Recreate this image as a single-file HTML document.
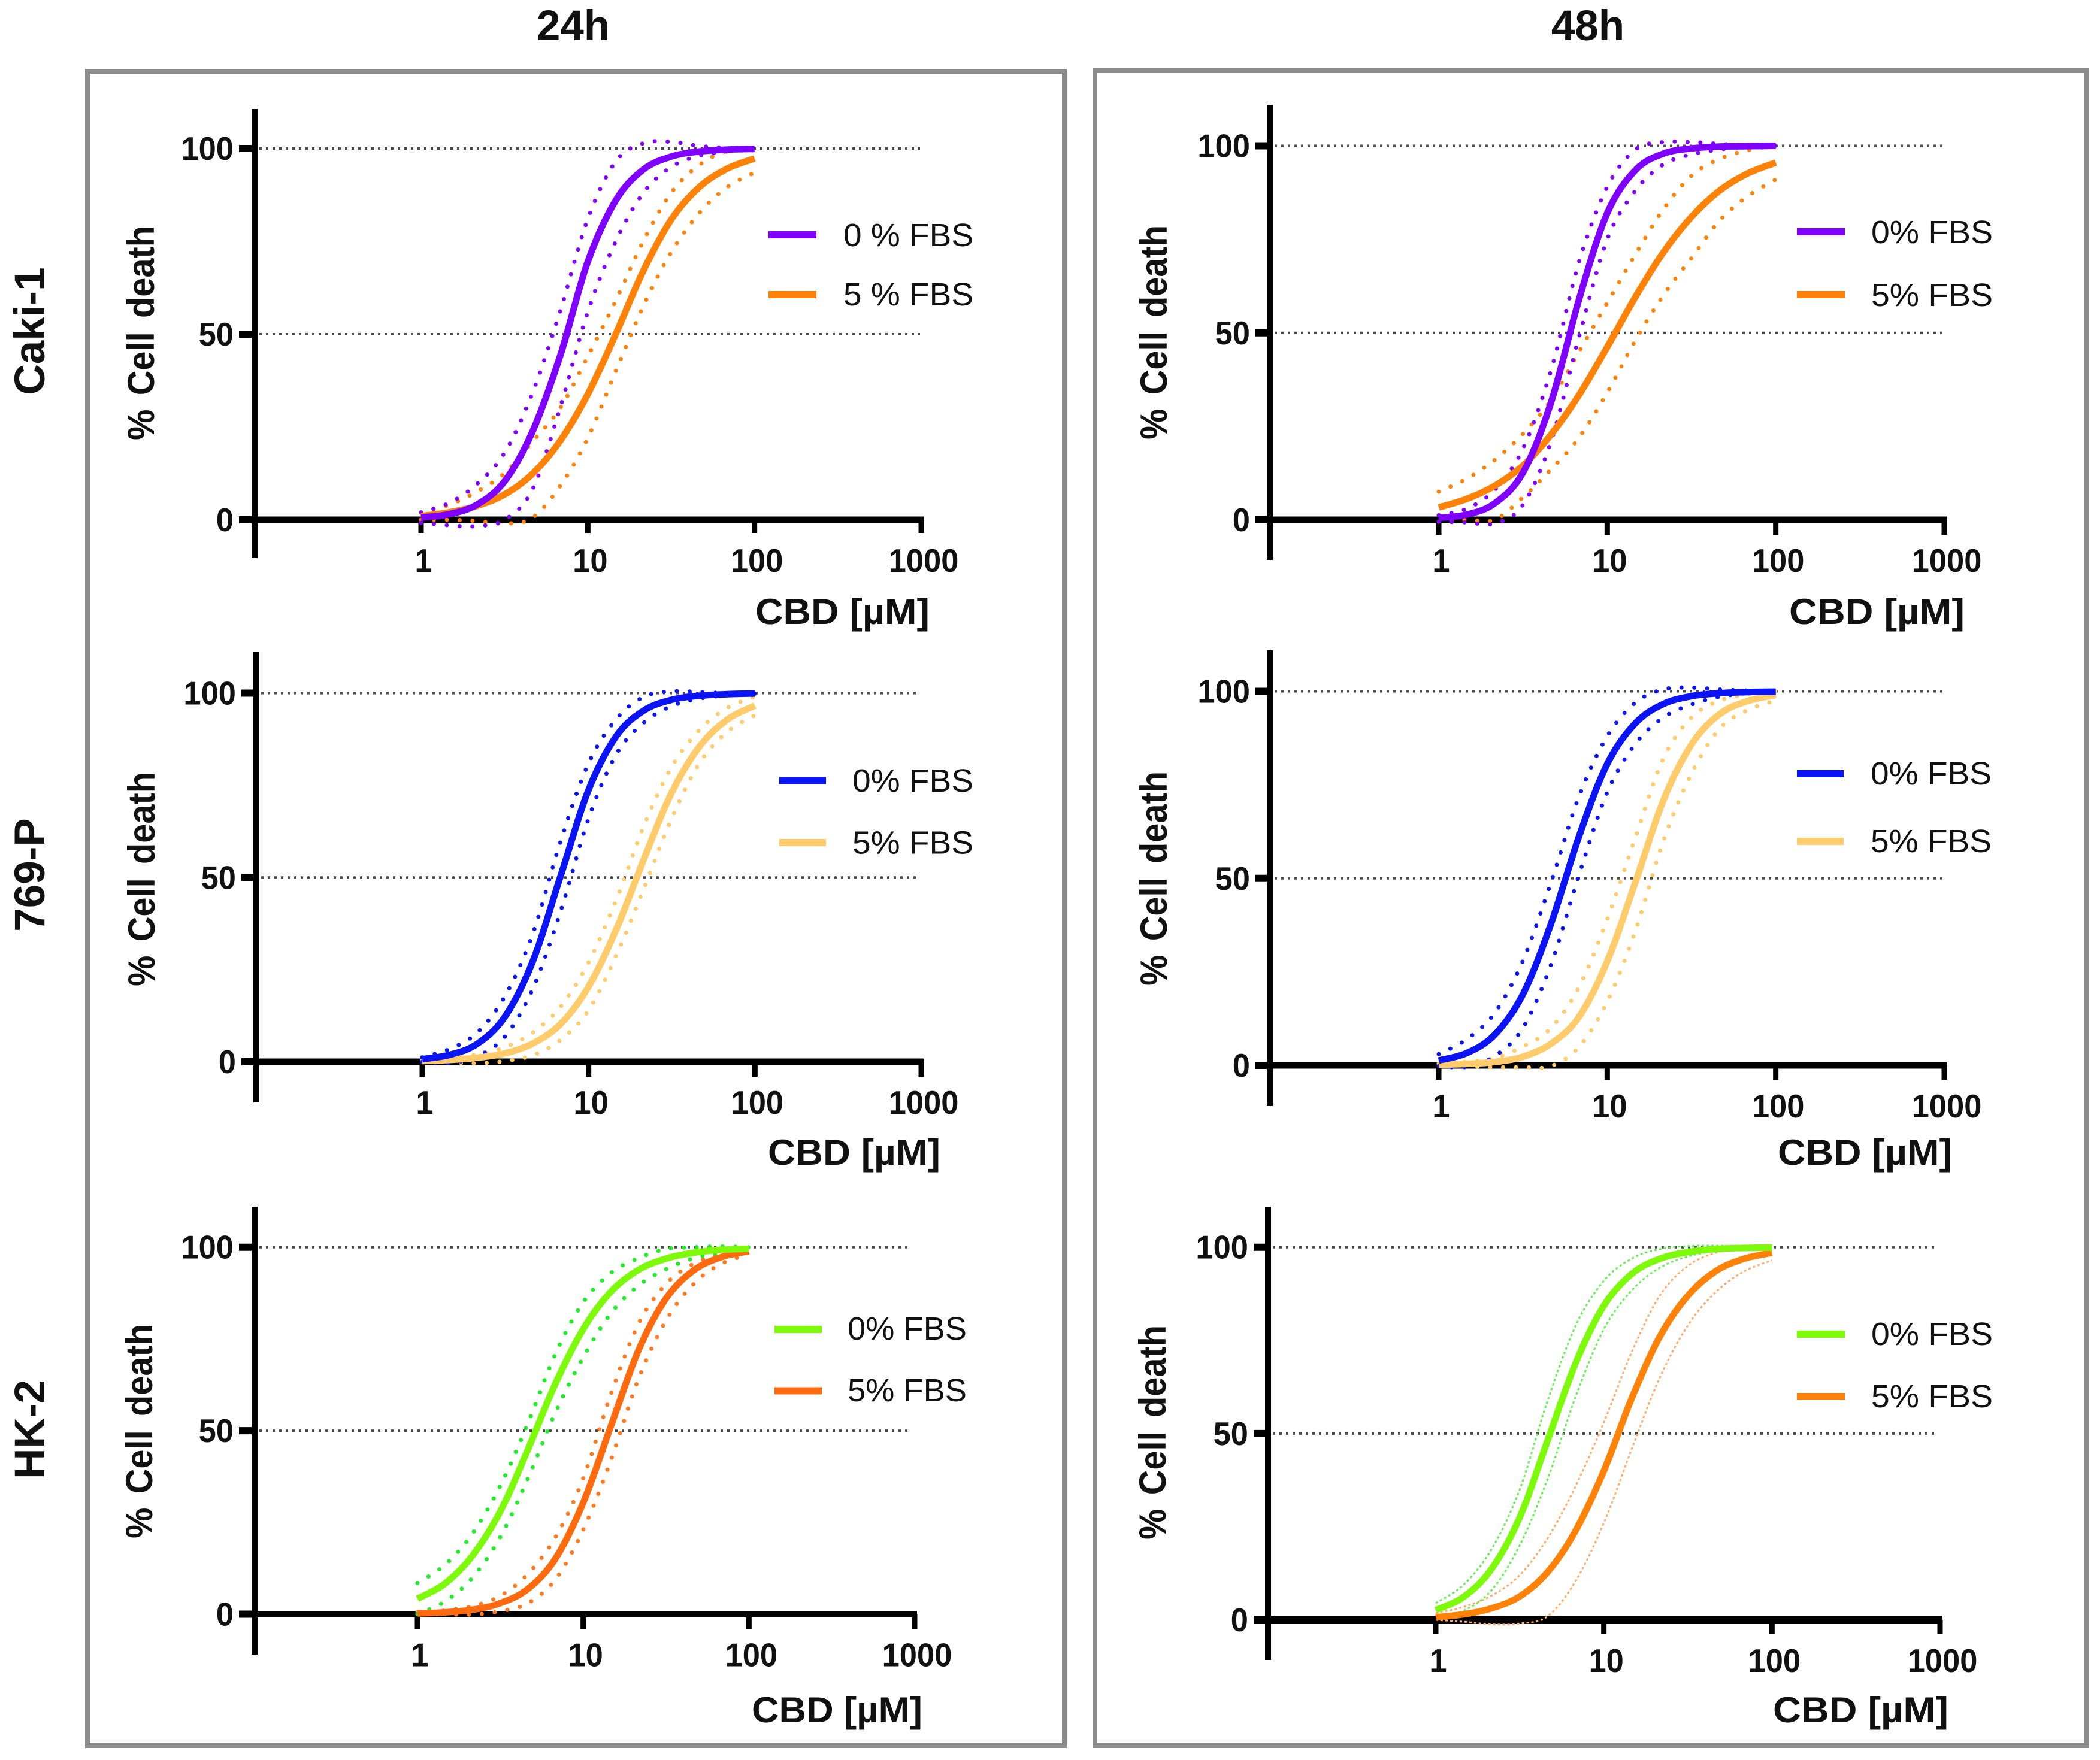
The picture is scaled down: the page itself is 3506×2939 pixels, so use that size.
<!DOCTYPE html>
<html lang="en">
<head>
<meta charset="utf-8">
<title>CBD dose-response curves</title>
<style>
html,body{margin:0;padding:0;background:#fff;}
svg{display:block;}
text{font-family:"Liberation Sans",sans-serif;fill:#111;}
.b{font-weight:bold;}
</style>
</head>
<body>
<svg id="fig" xmlns="http://www.w3.org/2000/svg" width="3506" height="2939" viewBox="0 0 3506 2939">
  <rect x="0" y="0" width="3506" height="2939" fill="#fff"/>
  <rect x="146" y="119" width="1631" height="2796" fill="none" stroke="#8c8c8c" stroke-width="8"/>
  <rect x="1828" y="118" width="1656" height="2797" fill="none" stroke="#8c8c8c" stroke-width="8"/>
  <text class="b" x="957" y="67" font-size="71" text-anchor="middle">24h</text>
  <text class="b" x="2651" y="67" font-size="71" text-anchor="middle">48h</text>
  <text class="b" font-size="71" text-anchor="middle" transform="translate(74,553) rotate(-90)">Caki-1</text>
  <text class="b" font-size="71" text-anchor="middle" transform="translate(74,1461) rotate(-90)">769-P</text>
  <text class="b" font-size="71" text-anchor="middle" transform="translate(74,2387) rotate(-90)">HK-2</text>
</svg>
<script>
// Shared axis data
const doses = [1,1.47,2.15,3.16,4.64,6.81,10,14.7,21.5,31.6,46.4,68.1,100];
const xTickLabels = [1,10,100,1000];
const yTickLabels = [0,50,100];
const gridValues = [50,100];

// Caki-1 24h
const caki24Fbs0Mid = [0.6,1.5,4,10.3,23.6,44,69.5,86,94.3,97.8,99.2,99.7,99.9];
const caki24Fbs0Up  = [2,4.5,9.5,18,34,56,81,96.5,101.4,101.8,100.7,100.2,100];
const caki24Fbs0Low = [-0.8,-1.5,-1.7,0,8,30,56,75,88,95,98,99.2,99.8];
const caki24Fbs5Mid = [1,2,3.7,6.8,12.3,21.2,33.8,50,67,80.8,89.5,94.5,97.3];
const caki24Fbs5Up  = [2,4,7.5,12.5,21,30,44,59,75,88,95.5,99.3,100.3];
const caki24Fbs5Low = [0,0,-0.3,-1,0.5,9,22,40,57.5,72,82.5,89.5,93.5];
// Caki-1 48h
const caki48Fbs0Mid = [0.5,1.4,4.4,12.6,31.4,59,82,93.5,97.9,99.3,99.8,99.9,100];
const caki48Fbs0Up  = [1.2,3,8,19,40,69,89,99,101,101,100.5,100.1,100];
const caki48Fbs0Low = [-0.5,-0.7,-1,4,21,49,75,88,95,97.7,99,99.8,100];
const caki48Fbs5Mid = [3.3,5.6,9.1,14.5,22.8,33.4,46.2,59.6,71.5,81,88,92.6,95.5];
const caki48Fbs5Up  = [7.5,11,16,23,32,45,58,71,83,92,96.5,98.8,100];
const caki48Fbs5Low = [-0.5,0,0,6,13.5,22,34,48,60,70,80,86.5,91];
// 769-P 24h
const p769h24Fbs0Mid = [0.7,1.9,4.9,12.4,27.5,50.6,73.8,88.4,95.3,98.2,99.3,99.7,99.9];
const p769h24Fbs0Up  = [1.2,3.5,8,18,35,60,81,93,99,100.5,100.3,100,100];
const p769h24Fbs0Low = [0,-0.3,1.5,7,20,41,66,83.5,92,96.5,98.5,99.4,99.8];
const p769h24Fbs5Mid = [0.2,0.5,1.1,2.3,5,10.3,20.4,36,55,73,85.5,92.8,96.6];
const p769h24Fbs5Up  = [0.5,1,2,4,8,15,27,44,64,80,90,96,99];
const p769h24Fbs5Low = [0,-0.2,-0.4,0.2,1.8,6,14,29,47,66,81,89.5,94];
// 769-P 48h
const p769h48Fbs0Mid = [1.3,3.3,8.2,19,37.9,61.3,80.6,91.5,96.6,98.7,99.5,99.8,99.9];
const p769h48Fbs0Up  = [3,7,14,28,49,72,88,97,100.5,101,100.5,100.2,100];
const p769h48Fbs0Low = [-0.2,-0.4,2.5,10,27,51,73,86,93,96.5,98.5,99.5,99.8];
const p769h48Fbs5Mid = [0.2,0.4,0.9,2.3,5.8,13,27.8,49,70.8,85.8,93.9,97.4,99];
const p769h48Fbs5Up  = [0.5,1,2,5,10,21,39,61,82,93,97.5,99.2,100];
const p769h48Fbs5Low = [-0.1,-0.3,-0.5,-0.5,-0.2,5,17,36,60,78,90,95,97.5];
// HK-2 24h
const hk24Fbs0Mid = [4.2,8.4,16,28,44.9,62.9,77.7,87.9,93.8,96.9,98.5,99.3,99.6];
const hk24Fbs0Up  = [8.5,13.5,22,35,52,71,85,93,97,99.5,100,100.2,100];
const hk24Fbs0Low = [0,3.5,10,21,37,55,70,82,89.5,94,97,98.5,99];
const hk24Fbs5Mid = [0.2,0.5,1.2,3,6.9,15.2,30.4,51.3,71.8,86,93.7,97.3,98.9];
const hk24Fbs5Up  = [0.5,1,2.2,5,11,21,37,60,79,90,95.5,98.3,99.5];
const hk24Fbs5Low = [0,0,-0.1,0.8,3,9.5,23,42,64,80,90,95.5,98];
// HK-2 48h
const hk48Fbs0Mid = [2.6,6.2,13.7,27.5,48.3,69,84.3,92.9,96.9,98.7,99.5,99.8,99.9];
const hk48Fbs0Up  = [4.5,9.5,19,35,59,79,91,97,99.5,100.3,100.4,100.2,100];
const hk48Fbs0Low = [0.7,2.5,8,20,38,60,78,88.5,94.5,97.5,99,99.6,99.8];
const hk48Fbs5Mid = [0.7,1.5,3.1,6.3,12.9,24,40,59.6,76,87,93.6,96.9,98.5];
const hk48Fbs5Up  = [1.8,3.5,6.5,12,22,36,53,72,87,95,98.5,99.7,100];
const hk48Fbs5Low = [0,-0.5,-1.2,-1,1,10.5,26,46,65,79,88,93.5,96.5];

// Panel layout (pixel geometry only, values come from the arrays above)
const panels = [
  {id:'caki-24h',ax:425,x1:703,x1000:1538,y0:868,y100:248,top:182,bot:932,tickBot:890,tickL:399,gridEnd:1536,axisH:11,
   ylab:{x:257,y:556},cbd:{x:1261,y:1042,w:291},leg:{lx:1283,lw:80,ly:[392,492],tx:1408,tw:217,tb:[411,510],names:['0 % FBS','5 % FBS']},
   s0:{c:'#7f00ff',d:'#7f00ff',m:caki24Fbs0Mid,u:caki24Fbs0Up,l:caki24Fbs0Low},s5:{c:'#ff8208',d:'#ff8208',m:caki24Fbs5Mid,u:caki24Fbs5Up,l:caki24Fbs5Low}},
  {id:'caki-48h',ax:2120,x1:2402,x1000:3246,y0:868,y100:243.5,top:175,bot:935,tickBot:893,tickL:2096,gridEnd:3243,axisH:11,
   ylab:{x:1948,y:555},cbd:{x:2987,y:1042,w:293},leg:{lx:3000,lw:80,ly:[387,492],tx:3124,tw:203,tb:[406,511],names:['0% FBS','5% FBS']},
   s0:{c:'#7f00ff',d:'#7f00ff',m:caki48Fbs0Mid,u:caki48Fbs0Up,l:caki48Fbs0Low},s5:{c:'#ff8208',d:'#ff8208',m:caki48Fbs5Mid,u:caki48Fbs5Up,l:caki48Fbs5Low}},
  {id:'769p-24h',ax:428,x1:705,x1000:1538,y0:1773,y100:1157.5,top:1088,bot:1841,tickBot:1798,tickL:403,gridEnd:1534,axisH:11,
   ylab:{x:258,y:1468},cbd:{x:1282,y:1945,w:288},leg:{lx:1301,lw:78,ly:[1303.5,1407],tx:1423,tw:202,tb:[1322,1425.6],names:['0% FBS','5% FBS']},
   s0:{c:'#0a14f5',d:'#0a14f5',m:p769h24Fbs0Mid,u:p769h24Fbs0Up,l:p769h24Fbs0Low},s5:{c:'#ffcb6b',d:'#ffcb6b',m:p769h24Fbs5Mid,u:p769h24Fbs5Up,l:p769h24Fbs5Low}},
  {id:'769p-48h',ax:2120,x1:2402,x1000:3246,y0:1779,y100:1154.5,top:1086,bot:1847,tickBot:1803,tickL:2096,gridEnd:3243,axisH:11,
   ylab:{x:1948,y:1467},cbd:{x:2968,y:1945,w:291},leg:{lx:3000,lw:78,ly:[1292,1405],tx:3123,tw:202,tb:[1310,1423],names:['0% FBS','5% FBS']},
   s0:{c:'#0a14f5',d:'#0a14f5',m:p769h48Fbs0Mid,u:p769h48Fbs0Up,l:p769h48Fbs0Low},s5:{c:'#ffcb6b',d:'#ffcb6b',m:p769h48Fbs5Mid,u:p769h48Fbs5Up,l:p769h48Fbs5Low}},
  {id:'hk2-24h',ax:425,x1:697,x1000:1527,y0:2695.5,y100:2082.7,top:2015,bot:2763,tickBot:2720,tickL:399,gridEnd:1521,axisH:11,
   ylab:{x:254,y:2390},cbd:{x:1255,y:2876,w:285},leg:{lx:1293,lw:79,ly:[2220,2322.5],tx:1415,tw:199,tb:[2237,2340],names:['0% FBS','5% FBS']},
   s0:{c:'#7dfa0a',d:'#1eee28',m:hk24Fbs0Mid,u:hk24Fbs0Up,l:hk24Fbs0Low},s5:{c:'#ff6a0f',d:'#ff7a20',m:hk24Fbs5Mid,u:hk24Fbs5Up,l:hk24Fbs5Low}},
  {id:'hk2-48h',ax:2117,x1:2397,x1000:3239,y0:2705,y100:2082.7,top:2015,bot:2772,tickBot:2728,tickL:2093,gridEnd:3234,axisH:14,thin:true,
   ylab:{x:1946,y:2392},cbd:{x:2960,y:2876,w:293},leg:{lx:3000,lw:80,ly:[2228,2332],tx:3124,tw:203,tb:[2246,2350],names:['0% FBS','5% FBS']},
   s0:{c:'#7dfa0a',d:'#66ee55',m:hk48Fbs0Mid,u:hk48Fbs0Up,l:hk48Fbs0Low},s5:{c:'#ff8208',d:'#ffab6b',m:hk48Fbs5Mid,u:hk48Fbs5Up,l:hk48Fbs5Low}}
];

const NS = 'http://www.w3.org/2000/svg';
const fig = document.getElementById('fig');

function make(tag, parent, attrs, txt) {
  const e = document.createElementNS(NS, tag);
  for (const k in attrs) e.setAttribute(k, attrs[k]);
  if (txt !== undefined) e.textContent = txt;
  parent.appendChild(e);
  return e;
}
function xAxisFn(p) {
  const dec = (p.x1000 - p.x1) / 3;
  return d => p.x1 + dec * Math.log10(d);
}
function yAxisFn(p) {
  return v => p.y0 + (p.y100 - p.y0) * v / 100;
}
function smoothPath(xs, ys, X, Y) {
  const pts = xs.map((d, i) => [X(d), Y(ys[i])]);
  let s = 'M' + pts[0][0].toFixed(1) + ' ' + pts[0][1].toFixed(1);
  for (let i = 0; i < pts.length - 1; i++) {
    const a = pts[Math.max(i - 1, 0)], b = pts[i], c = pts[i + 1], e = pts[Math.min(i + 2, pts.length - 1)];
    s += 'C' + (b[0] + (c[0] - a[0]) / 6).toFixed(1) + ' ' + (b[1] + (c[1] - a[1]) / 6).toFixed(1) + ' ' +
         (c[0] - (e[0] - b[0]) / 6).toFixed(1) + ' ' + (c[1] - (e[1] - b[1]) / 6).toFixed(1) + ' ' +
         c[0].toFixed(1) + ' ' + c[1].toFixed(1);
  }
  return s;
}

panels.forEach(p => {
  const X = xAxisFn(p), Y = yAxisFn(p);
  const g = make('g', fig, {});
  
  

  gridValues.forEach(v => {
    const gl = make('line', g, {x1: p.ax + 8, x2: p.gridEnd, y1: Y(v), y2: Y(v), stroke: '#4a4a4a', 'stroke-width': 4, 'stroke-dasharray': '4 7'});
    
    
  });

  const yAxis = make('line', g, {x1: p.ax, x2: p.ax, y1: p.top, y2: p.bot, stroke: '#000', 'stroke-width': 10});
  
  
  const xAxis = make('line', g, {x1: p.tickL, x2: p.x1000 + 4, y1: p.y0, y2: p.y0, stroke: '#000', 'stroke-width': p.axisH});
  
  

  yTickLabels.forEach(v => {
    const t = make('line', g, {x1: p.tickL, x2: p.ax, y1: Y(v), y2: Y(v), stroke: '#000', 'stroke-width': 12});
    
    
    const l = make('text', g, {x: p.tickL - 9, y: Y(v) + 19, 'font-size': 55, 'text-anchor': 'end', class: 'b', textLength: String(v).length * 29.2, lengthAdjust: 'spacingAndGlyphs'}, String(v));
    
    
  });
  xTickLabels.forEach(v => {
    const t = make('line', g, {x1: X(v), x2: X(v), y1: p.y0, y2: p.tickBot, stroke: '#000', 'stroke-width': 9});
    
    
    const l = make('text', g, {x: X(v) + 4, y: p.y0 + 87, 'font-size': 55, 'text-anchor': 'middle', class: 'b', textLength: String(v).length * 29.2, lengthAdjust: 'spacingAndGlyphs'}, String(v));
    
    
  });

  const xt = make('text', g, {x: p.cbd.x, y: p.cbd.y, 'font-size': 60, class: 'b', textLength: p.cbd.w, lengthAdjust: 'spacingAndGlyphs'}, 'CBD [µM]');
  
  
  const yt = make('text', g, {'font-size': 63, class: 'b', 'text-anchor': 'middle', 'word-spacing': 8, textLength: 358, lengthAdjust: 'spacingAndGlyphs', transform: 'translate(' + p.ylab.x + ',' + p.ylab.y + ') rotate(-90)'}, '% Cell death');
  
  

  [['fbs-5', p.s5], ['fbs-0', p.s0]].forEach(([key, s]) => {
    [['upper', s.u], ['lower', s.l]].forEach(([side, arr]) => {
      const band = make('path', g, p.thin
        ? {d: smoothPath(doses, arr, X, Y), fill: 'none', stroke: s.d, 'stroke-width': 3, 'stroke-dasharray': '4 4'}
        : {d: smoothPath(doses, arr, X, Y), fill: 'none', stroke: s.d, 'stroke-width': 7, 'stroke-linecap': 'round', 'stroke-dasharray': '0 21.5'});
      
      
    });
  });
  [['fbs-5', p.s5], ['fbs-0', p.s0]].forEach(([key, s]) => {
    const line = make('path', g, {d: smoothPath(doses, s.m, X, Y), fill: 'none', stroke: s.c, 'stroke-width': 11});
    
    
  });

  [p.s0, p.s5].forEach((s, i) => {
    const sw = make('line', g, {x1: p.leg.lx, x2: p.leg.lx + p.leg.lw, y1: p.leg.ly[i], y2: p.leg.ly[i], stroke: s.c, 'stroke-width': 12});
    
    
    const lt = make('text', g, {x: p.leg.tx, y: p.leg.tb[i], 'font-size': 54, textLength: p.leg.tw, lengthAdjust: 'spacingAndGlyphs'}, p.leg.names[i]);
    
    
  });
});
</script>
</body>
</html>
